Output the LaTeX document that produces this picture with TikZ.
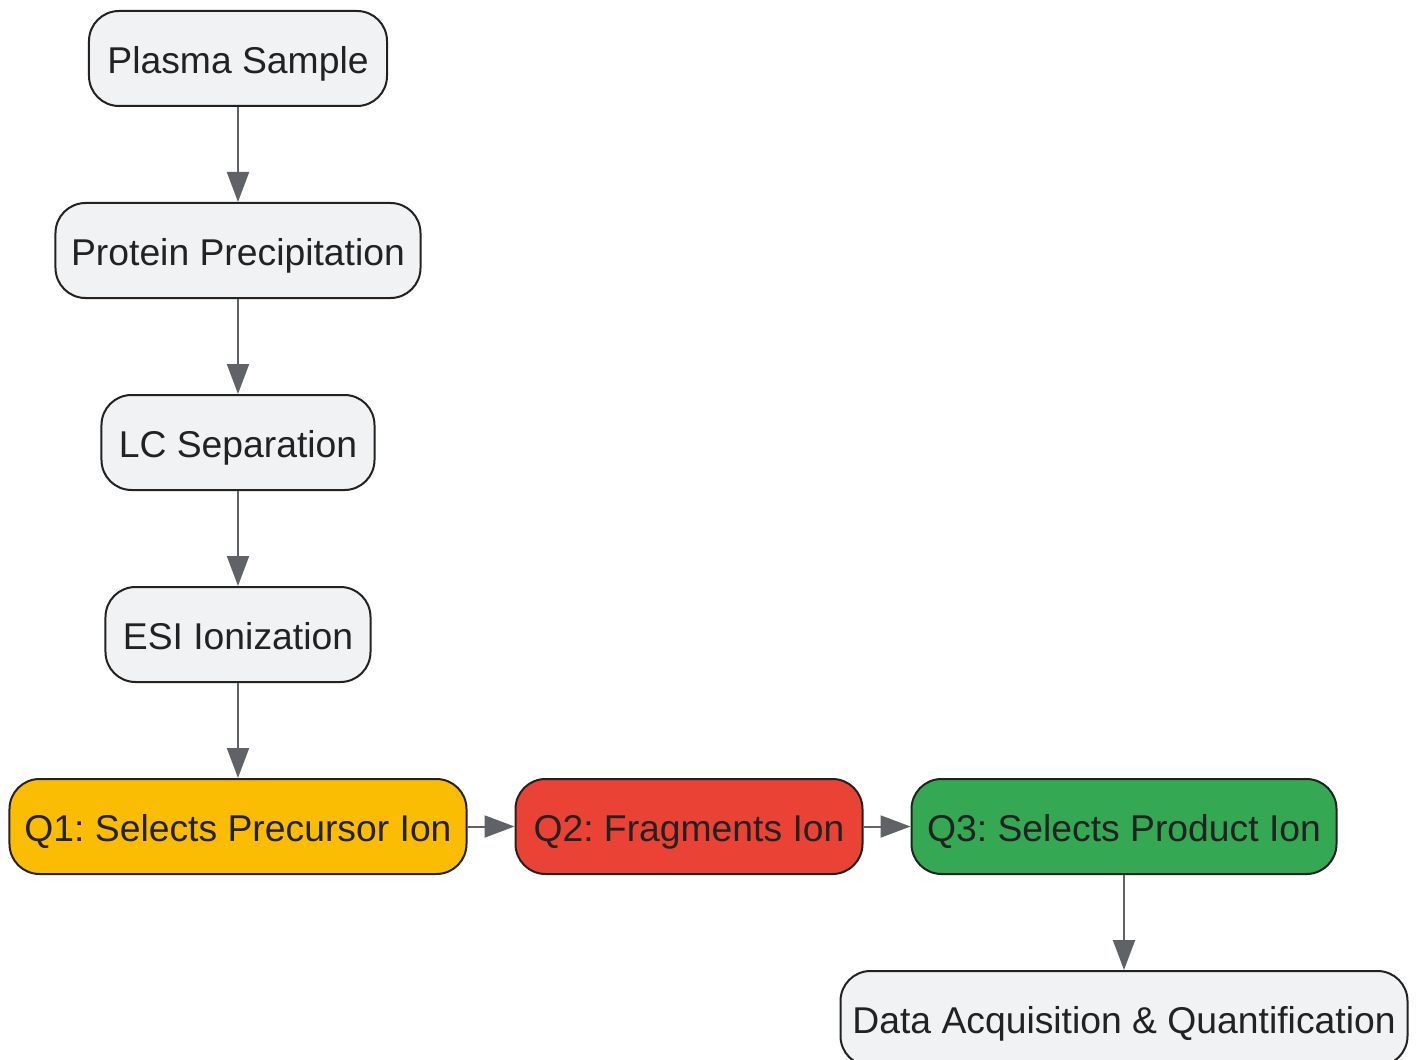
\documentclass[tikz,border=0pt]{standalone}
\usepackage{fontspec}
\setmainfont{Liberation Sans}
\usepackage{xcolor}
\usetikzlibrary{positioning, arrows.meta}
\frenchspacing

\definecolor{boxgray}{HTML}{F1F2F4}
\definecolor{edgegray}{HTML}{5F6368}
\definecolor{inkdark}{HTML}{222222}
\definecolor{qyellow}{HTML}{FBBC04}
\definecolor{qred}{HTML}{EA4335}
\definecolor{qgreen}{HTML}{34A853}

\tikzset{
  stepbox/.style={draw=inkdark, line width=1pt, rounded corners=15pt,
    fill=boxgray, text=inkdark, minimum height=47.5pt, inner xsep=0pt,
    text height=14.8pt, text depth=0pt,
    font=\fontsize{18.65pt}{22pt}\selectfont},
  flow/.style={draw=edgegray, line width=1pt,
    -{Triangle[length=15pt,width=11pt]}, color=edgegray}
}

\begin{document}
\begin{tikzpicture}[node distance=47.5pt and 23.5pt]
\clip (-119pt,29.25pt) rectangle (589.5pt,-500.25pt);
% sample preparation
\node[stepbox, minimum width=149pt] (plasma) at (0,0) {Plasma Sample};
\node[stepbox, minimum width=182.5pt, below=of plasma] (precip) {Protein Precipitation};
\node[stepbox, minimum width=136.5pt, below=of precip] (lc) {LC Separation};
\node[stepbox, minimum width=132.5pt, below=of lc] (esi) {ESI Ionization};
% triple quadrupole
\node[stepbox, minimum width=228.5pt, fill=qyellow, below=of esi] (q1) {Q1: Selects Precursor Ion};
\node[stepbox, minimum width=173.5pt, fill=qred, right=of q1] (q2) {Q2: Fragments Ion};
\node[stepbox, minimum width=212.5pt, fill=qgreen, right=of q2] (q3) {Q3: Selects Product Ion};
\node[stepbox, minimum width=283.5pt, below=of q3] (data) {Data Acquisition \& Quantification};

\draw[flow] (plasma) -- (precip);
\draw[flow] (precip) -- (lc);
\draw[flow] (lc) -- (esi);
\draw[flow] (esi) -- (q1);
\draw[flow] (q1) -- (q2);
\draw[flow] (q2) -- (q3);
\draw[flow] (q3) -- (data);
\end{tikzpicture}
\end{document}
